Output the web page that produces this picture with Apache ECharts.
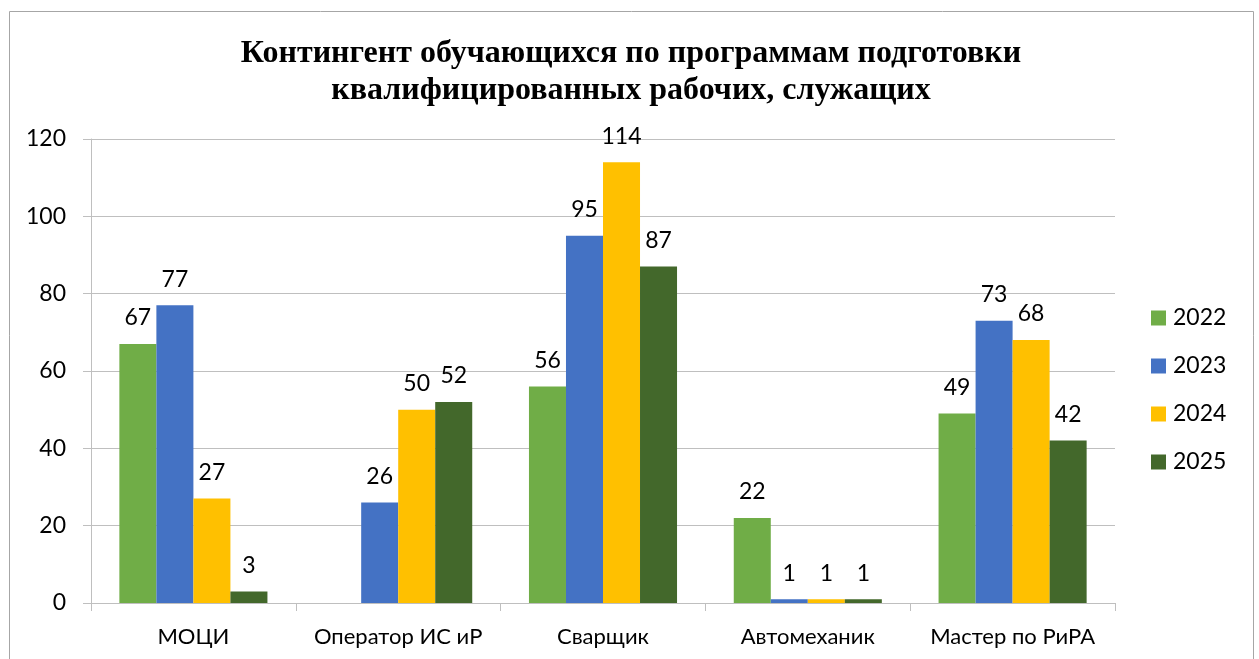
<!DOCTYPE html>
<html><head><meta charset="utf-8">
<script src="https://cdn.jsdelivr.net/npm/echarts@6/dist/echarts.min.js"></script>
<style>html,body{margin:0;padding:0;background:#fff;}#c{width:1259px;height:659px;}</style>
</head><body><div id="c"></div>
<script>
const categories = ['МОЦИ', 'Оператор ИС иР', 'Сварщик', 'Автомеханик', 'Мастер по РиРА'];
const years = ['2022', '2023', '2024', '2025'];
const s2022 = [67, null, 56, 22, 49];
const s2023 = [77, 26, 95, 1, 73];
const s2024 = [27, 50, 114, 1, 68];
const s2025 = [3, 52, 87, 1, 42];
const yTicks = { min: 0, max: 120, interval: 20 };
const colors = ['#70AD47', '#4472C4', '#FFC000', '#43682B'];
const seriesData = [s2022, s2023, s2024, s2025];

const chart = echarts.init(document.getElementById('c'), null, { renderer: 'canvas' });
const font = 'Lato, "Open Sans", sans-serif';
const fs = 23;
chart.setOption({
  animation: false,
  backgroundColor: '#fff',
  title: {
    text: 'Контингент обучающихся по программам подготовки\nквалифицированных рабочих, служащих',
    left: 631, top: 35, textAlign: 'center', padding: 0,
    textStyle: { fontFamily: '"Liberation Serif", "Times New Roman", serif', fontWeight: 'bold', fontSize: 32, lineHeight: 37, color: '#000' }
  },
  graphic: [{
    type: 'rect', shape: { x: 9.5, y: 11.5, width: 1244, height: 700 },
    style: { fill: 'none', stroke: '#A6A6A6', lineWidth: 1 }, silent: true
  }],
  legend: {
    orient: 'vertical', left: 1151, top: 306, padding: 0,
    itemWidth: 15, itemHeight: 15, itemGap: 24,
    icon: 'rect',
    textStyle: { fontFamily: font, fontSize: fs, lineHeight: 24, color: '#000', padding: [0, 0, 0, 2] },
    data: years
  },
  grid: { left: 91, right: 144, top: 139, bottom: 56, containLabel: false },
  xAxis: {
    type: 'category', data: categories,
    axisLine: { lineStyle: { color: '#BFBFBF', width: 1 } },
    axisTick: { show: true, length: 8, lineStyle: { color: '#BFBFBF' } },
    axisLabel: { fontFamily: font, fontSize: 22, color: '#000', margin: 23, interval: 0 }
  },
  yAxis: {
    type: 'value', min: yTicks.min, max: yTicks.max, interval: yTicks.interval,
    axisLine: { show: true, lineStyle: { color: '#BFBFBF', width: 1 } },
    axisTick: { show: true, length: 8, lineStyle: { color: '#BFBFBF' } },
    splitLine: { lineStyle: { color: '#BFBFBF', width: 1 } },
    axisLabel: { fontFamily: font, fontSize: fs, color: '#000', margin: 25 }
  },
  series: years.map((y, i) => ({
    name: y, type: 'bar', data: seriesData[i],
    barGap: '0%', barCategoryGap: '27.7%',
    itemStyle: { color: colors[i] },
    label: { show: true, position: 'top', distance: 12, fontFamily: font, fontSize: fs, color: '#000', lineHeight: 28 }
  }))
});
</script></body></html>
